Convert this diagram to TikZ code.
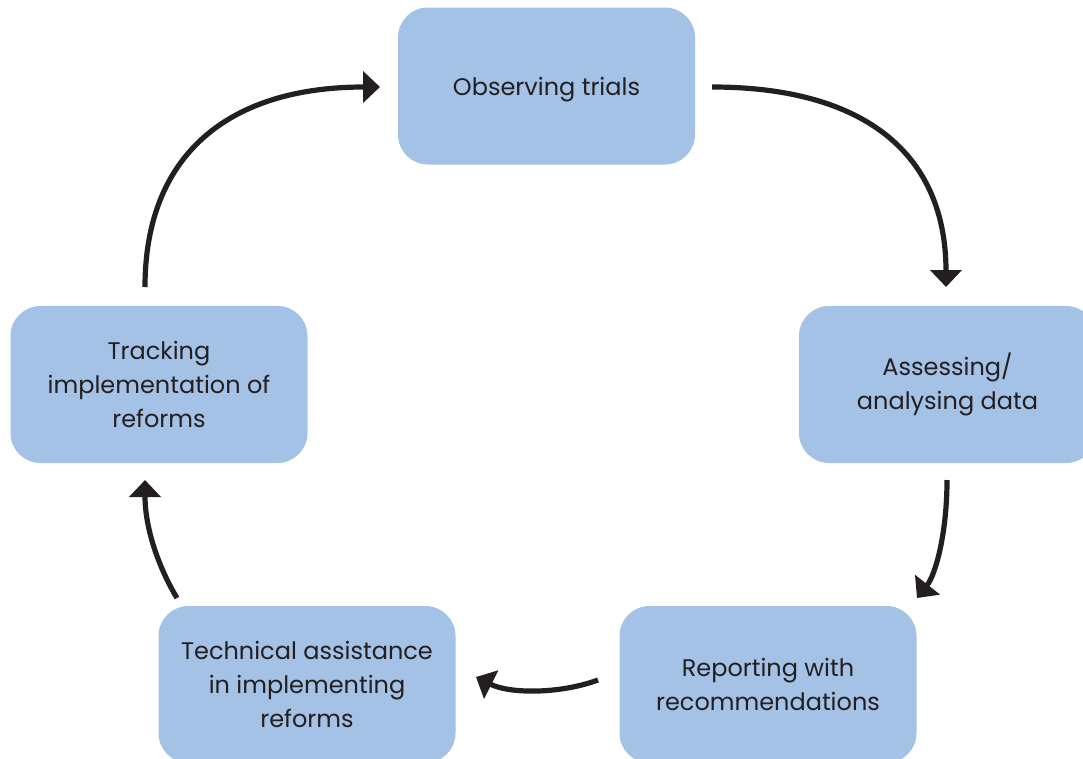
\documentclass[tikz,border=0pt]{standalone}
\usepackage{fontspec}
\setmainfont{Poppins}
\usetikzlibrary{arrows.meta}
\definecolor{boxblue}{RGB}{164,193,230}
\definecolor{inkdark}{RGB}{35,31,32}
\tikzset{
  stage/.style={draw=none, fill=boxblue, rounded corners=30pt,
    minimum width=297pt, minimum height=157pt, inner sep=0pt,
    align=center, text=inkdark,
    font=\fontsize{24}{34}\selectfont},
  flow/.style={draw=inkdark, line width=5.2pt,
    -{Triangle[width=31pt,length=17pt]}}
}
\begin{document}
\begin{tikzpicture}[x=1pt,y=-1pt]
\useasboundingbox (0,0) rectangle (1083,758);
\clip (0,0) rectangle (1083,758);
\fill[white] (0,0) rectangle (1083,758);

\node[stage] (obs) at (546.5,86) {\raisebox{-4pt}[\height][\depth]{Observing trials}};
\node[stage] (ass) at (947.5,384.5) {Assessing/\\analysing data};
\node[stage] (rep) at (768,684.5) {Reporting with\\recommendations};
\node[stage] (tec) at (307,684.5) {Technical assistance\\in implementing\\reforms};
\node[stage] (tra) at (159,384.5) {Tracking\\implementation of\\reforms};

\coordinate (a1s) at (712,87);
\coordinate (a1e) at (946,287);
\coordinate (a2s) at (947,480);
\coordinate (a2e) at (917,598);
\coordinate (a3s) at (598,680);
\coordinate (a3e) at (476,677);
\coordinate (a4s) at (177,598);
\coordinate (a4e) at (145,480);
\coordinate (a5s) at (145,287);
\coordinate (a5e) at (380,87);

\draw[flow] (a1s) .. controls (866,87) and (946,155) .. (a1e);
\draw[flow] (a2s) .. controls (947,532) and (936,574) .. (a2e);
\draw[flow] (a3s) .. controls (560,694) and (510,694) .. (a3e);
\draw[flow] (a4s) .. controls (160,570) and (145,530) .. (a4e);
\draw[flow] (a5s) .. controls (145,157) and (226,87) .. (a5e);
\end{tikzpicture}
\end{document}
